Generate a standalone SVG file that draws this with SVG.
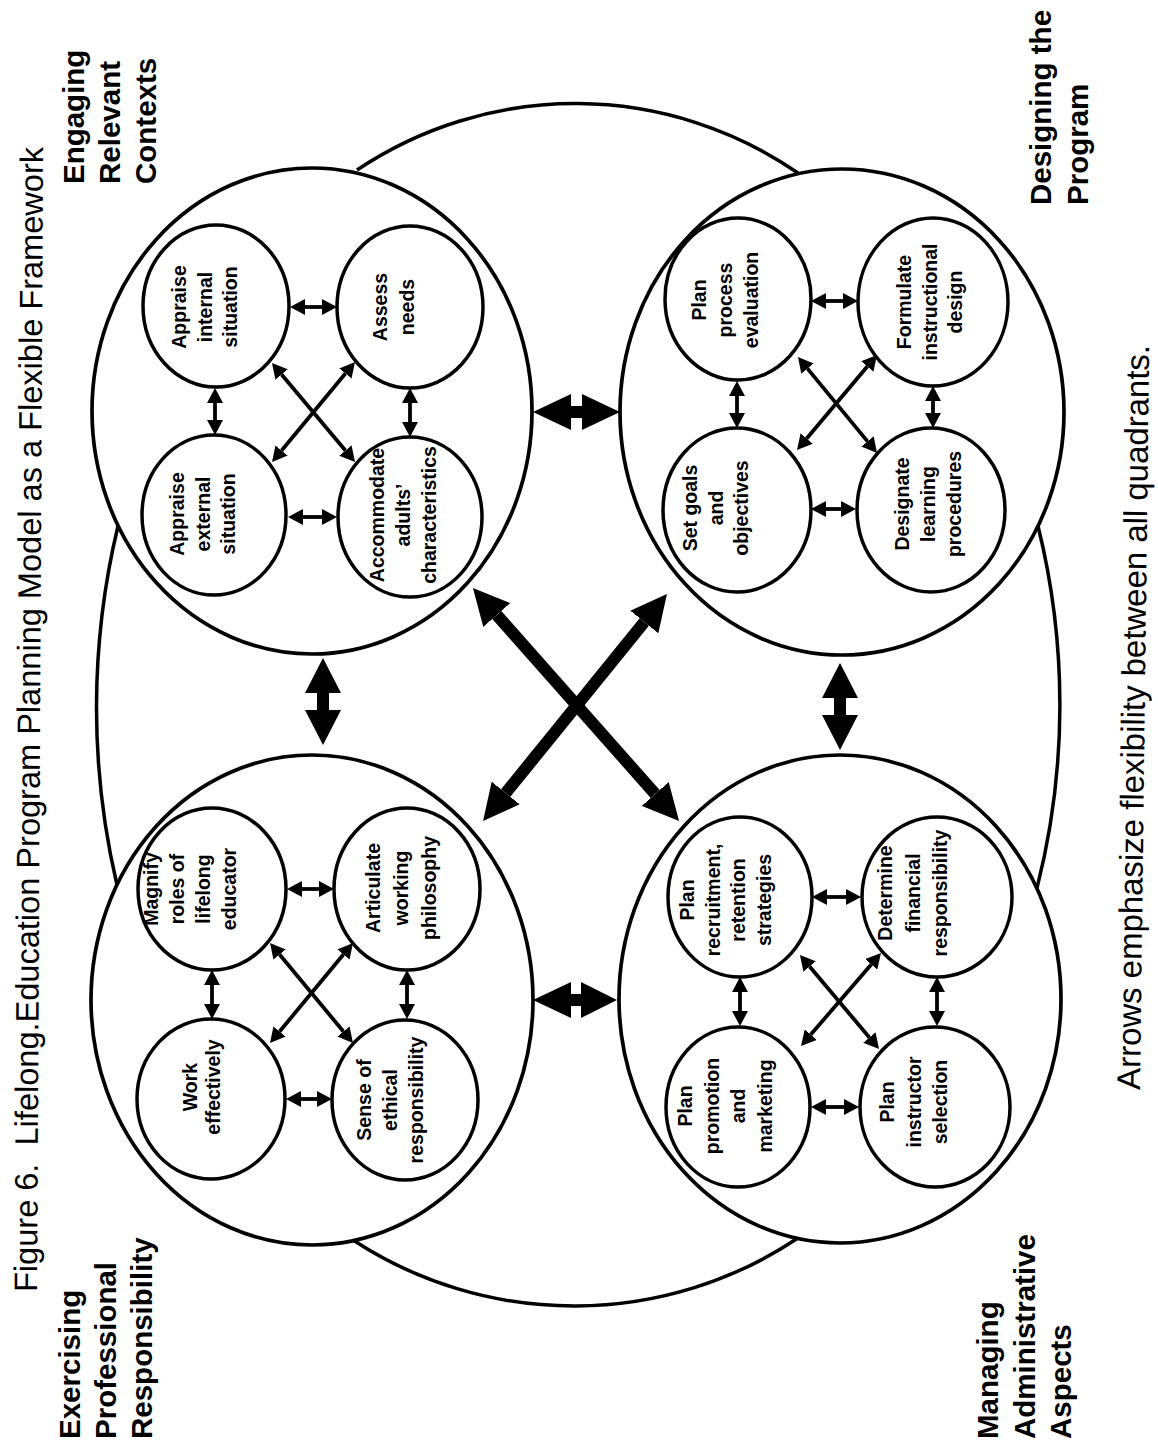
<svg xmlns="http://www.w3.org/2000/svg" width="1158" height="1451" viewBox="0 0 1158 1451">
  <style>
    .ring { fill: none; stroke: #000; stroke-width: 3.7; }
    .frame { fill: none; stroke: #000; stroke-width: 3.5; }
    .node ellipse { fill: none; stroke: #000; stroke-width: 3.5; }
    .nt { font-family: "Liberation Sans", Arial, sans-serif; font-weight: bold; font-size: 19.5px; text-anchor: middle; fill: #000; }
    .ql { font-family: "Liberation Sans", Arial, sans-serif; font-weight: bold; font-size: 29.5px; fill: #000; }
    .cap { font-family: "Liberation Sans", Arial, sans-serif; font-size: 32.5px; fill: #000; }
    .sm { fill: none; stroke: #000; stroke-width: 3.8; marker-start: url(#hs); marker-end: url(#hs); }
    .lg { fill: none; stroke: #000; stroke-width: 12; marker-start: url(#hl); marker-end: url(#hl); }
    .big { fill: #000; stroke: none; }
  </style>
  <defs>
    <marker id="hs" markerUnits="userSpaceOnUse" viewBox="0 0 15 16" refX="0" refY="8" markerWidth="15" markerHeight="16" orient="auto-start-reverse">
      <path d="M0,0 L15,8 L0,16 Z" fill="#000"/>
    </marker>
    <marker id="hl" markerUnits="userSpaceOnUse" viewBox="0 0 36 36" refX="0" refY="18" markerWidth="36" markerHeight="36" orient="auto-start-reverse">
      <path d="M0,0 L36,18 L0,36 Z" fill="#000"/>
    </marker>
  </defs>

  <rect x="0" y="0" width="1158" height="1451" fill="#fff"/>

  <!-- outer framework outline joining the four quadrants -->
  <g id="framework">
    <path class="frame" d="M357,170 A392,392 0 0 1 798,173 M1038,526 A743,743 0 0 1 1037,888 M798,1238 A403,403 0 0 1 353,1240 M117,885 A778,778 0 0 1 118,526"/>
  </g>

  <!-- quadrant rings -->
  <g id="quadrant-engaging"><ellipse class="ring" cx="312" cy="411" rx="220" ry="243"/></g>
  <g id="quadrant-designing"><ellipse class="ring" cx="842" cy="412" rx="222" ry="243"/></g>
  <g id="quadrant-exercising"><ellipse class="ring" cx="312" cy="1000" rx="221" ry="245"/></g>
  <g id="quadrant-managing"><ellipse class="ring" cx="840" cy="999" rx="221" ry="244"/></g>

  <!-- Engaging Relevant Contexts -->
  <g id="node-appraise-internal" class="node">
    <ellipse cx="216" cy="306" rx="73" ry="81"/>
    <text class="nt" transform="translate(186,307) rotate(-90)"><tspan x="0" y="0">Appraise</tspan><tspan x="0" y="25.5">internal</tspan><tspan x="0" y="51">situation</tspan></text>
  </g>
  <g id="node-assess-needs" class="node">
    <ellipse cx="410" cy="307" rx="73" ry="81"/>
    <text class="nt" transform="translate(387,307) rotate(-90)"><tspan x="0" y="0">Assess</tspan><tspan x="0" y="27">needs</tspan></text>
  </g>
  <g id="node-appraise-external" class="node">
    <ellipse cx="214" cy="515" rx="72" ry="80"/>
    <text class="nt" transform="translate(184,514) rotate(-90)"><tspan x="0" y="0">Appraise</tspan><tspan x="0" y="25.5">external</tspan><tspan x="0" y="51">situation</tspan></text>
  </g>
  <g id="node-accommodate" class="node">
    <ellipse cx="410" cy="517" rx="72" ry="80"/>
    <text class="nt" transform="translate(384,515) rotate(-90)"><tspan x="0" y="0">Accommodate</tspan><tspan x="0" y="26">adults’</tspan><tspan x="0" y="52">characteristics</tspan></text>
  </g>

  <!-- Designing the Program -->
  <g id="node-plan-process-evaluation" class="node">
    <ellipse cx="738" cy="299" rx="73" ry="81"/>
    <text class="nt" transform="translate(706,300) rotate(-90)"><tspan x="0" y="0">Plan</tspan><tspan x="0" y="26">process</tspan><tspan x="0" y="52">evaluation</tspan></text>
  </g>
  <g id="node-formulate" class="node">
    <ellipse cx="933" cy="302" rx="75" ry="84"/>
    <text class="nt" transform="translate(911,302) rotate(-90)"><tspan x="0" y="0">Formulate</tspan><tspan x="0" y="25.5">instructional</tspan><tspan x="0" y="51">design</tspan></text>
  </g>
  <g id="node-set-goals" class="node">
    <ellipse cx="737" cy="510" rx="74" ry="82"/>
    <text class="nt" transform="translate(697,508) rotate(-90)"><tspan x="0" y="0">Set goals</tspan><tspan x="0" y="25.5">and</tspan><tspan x="0" y="51">objectives</tspan></text>
  </g>
  <g id="node-designate" class="node">
    <ellipse cx="931" cy="510" rx="74" ry="82"/>
    <text class="nt" transform="translate(909,504) rotate(-90)"><tspan x="0" y="0">Designate</tspan><tspan x="0" y="26">learning</tspan><tspan x="0" y="52">procedures</tspan></text>
  </g>

  <!-- Exercising Professional Responsibility -->
  <g id="node-magnify-roles" class="node">
    <ellipse cx="212" cy="889" rx="74" ry="81"/>
    <text class="nt" transform="translate(158,889) rotate(-90)"><tspan x="0" y="0">Magnify</tspan><tspan x="0" y="26">roles of</tspan><tspan x="0" y="52">lifelong</tspan><tspan x="0" y="78">educator</tspan></text>
  </g>
  <g id="node-articulate" class="node">
    <ellipse cx="407" cy="889" rx="73" ry="81"/>
    <text class="nt" transform="translate(380,888) rotate(-90)"><tspan x="0" y="0">Articulate</tspan><tspan x="0" y="28">working</tspan><tspan x="0" y="56">philosophy</tspan></text>
  </g>
  <g id="node-work-effectively" class="node">
    <ellipse cx="211" cy="1099" rx="74" ry="80"/>
    <text class="nt" transform="translate(197,1087) rotate(-90)"><tspan x="0" y="0">Work</tspan><tspan x="0" y="23">effectively</tspan></text>
  </g>
  <g id="node-sense-ethical" class="node">
    <ellipse cx="405" cy="1100" rx="73" ry="80"/>
    <text class="nt" transform="translate(371,1100) rotate(-90)"><tspan x="0" y="0">Sense of</tspan><tspan x="0" y="26">ethical</tspan><tspan x="0" y="52">responsibility</tspan></text>
  </g>

  <!-- Managing Administrative Aspects -->
  <g id="node-plan-recruitment" class="node">
    <ellipse cx="740" cy="897" rx="72" ry="80"/>
    <text class="nt" transform="translate(694,900) rotate(-90)"><tspan x="0" y="0">Plan</tspan><tspan x="0" y="25.7">recruitment,</tspan><tspan x="0" y="51.4">retention</tspan><tspan x="0" y="77">strategies</tspan></text>
  </g>
  <g id="node-determine-financial" class="node">
    <ellipse cx="937" cy="897" rx="75" ry="80"/>
    <text class="nt" transform="translate(892,893) rotate(-90)"><tspan x="0" y="0">Determine</tspan><tspan x="0" y="27.5">financial</tspan><tspan x="0" y="55">responsibility</tspan></text>
  </g>
  <g id="node-plan-promotion" class="node">
    <ellipse cx="738" cy="1107" rx="72" ry="80"/>
    <text class="nt" transform="translate(692,1106) rotate(-90)"><tspan x="0" y="0">Plan</tspan><tspan x="0" y="26.7">promotion</tspan><tspan x="0" y="53.4">and</tspan><tspan x="0" y="80">marketing</tspan></text>
  </g>
  <g id="node-plan-instructor" class="node">
    <ellipse cx="935" cy="1107" rx="75" ry="80"/>
    <text class="nt" transform="translate(894,1102) rotate(-90)"><tspan x="0" y="0">Plan</tspan><tspan x="0" y="26.5">instructor</tspan><tspan x="0" y="53">selection</tspan></text>
  </g>

  <!-- connectors -->
  <g id="connectors">
    <!-- within Engaging Relevant Contexts -->
    <path class="sm" d="M305,307 L322,307"/>
    <path class="sm" d="M303,517 L322,517"/>
    <path class="sm" d="M215,403 L215,420"/>
    <path class="sm" d="M410,403 L410,422"/>
    <path class="sm" d="M281.6,374.5 L345.4,450.5"/>
    <path class="sm" d="M345.4,373.5 L281.6,450.5"/>
    <!-- within Designing the Program -->
    <path class="sm" d="M826,301 L843,301"/>
    <path class="sm" d="M826,509 L841,509"/>
    <path class="sm" d="M737,396 L737,413"/>
    <path class="sm" d="M933,401 L933,413"/>
    <path class="sm" d="M807.5,368.6 L867.5,441.4"/>
    <path class="sm" d="M867.3,366.5 L806.7,438.5"/>
    <!-- within Exercising Professional Responsibility -->
    <path class="sm" d="M302,889 L319,889"/>
    <path class="sm" d="M301,1099 L317,1099"/>
    <path class="sm" d="M212,985 L212,1004"/>
    <path class="sm" d="M407,985 L407,1004"/>
    <path class="sm" d="M279.6,954.5 L343.4,1031.5"/>
    <path class="sm" d="M343.4,954.5 L279.6,1031.5"/>
    <!-- within Managing Administrative Aspects -->
    <path class="sm" d="M827,897 L846,897"/>
    <path class="sm" d="M826,1107 L844,1107"/>
    <path class="sm" d="M740,992 L740,1011"/>
    <path class="sm" d="M937,992 L937,1011"/>
    <path class="sm" d="M871.2,964.4 L810.8,1034.6"/>
    <path class="sm" d="M809.6,966.5 L869.4,1037.5"/>

    <!-- between neighbouring quadrants -->
    <path class="big" d="M533,412 L571,394 L571,406 L582,406 L582,394 L620,412 L582,430 L582,418 L571,418 L571,430 Z"/>
    <path class="big" d="M533,1000 L571,982 L571,994 L581,994 L581,982 L617,1000 L581,1018 L581,1006 L571,1006 L571,1018 Z"/>
    <path class="big" d="M323,658 L341,693 L329,693 L329,710 L341,710 L323,745 L305,710 L317,710 L317,693 L305,693 Z"/>
    <path class="big" d="M840,663 L858,698 L846,698 L846,715 L858,715 L840,750 L822,715 L834,715 L834,698 L822,698 Z"/>

    <!-- across the diagonals -->
    <path class="lg" d="M496.8,615 L655.2,794"/>
    <path class="lg" d="M644.3,622 L505.7,793"/>
  </g>

  <!-- quadrant headings -->
  <g id="label-engaging">
    <text class="ql" transform="translate(84,184) rotate(-90)"><tspan x="0" y="0">Engaging</tspan><tspan x="0" y="36">Relevant</tspan><tspan x="0" y="72">Contexts</tspan></text>
  </g>
  <g id="label-designing">
    <text class="ql" transform="translate(1051,205) rotate(-90)"><tspan x="0" y="0">Designing the</tspan><tspan x="0" y="37">Program</tspan></text>
  </g>
  <g id="label-exercising">
    <text class="ql" transform="translate(80,1439) rotate(-90)"><tspan x="0" y="0">Exercising</tspan><tspan x="0" y="36">Professional</tspan><tspan x="0" y="72">Responsibility</tspan></text>
  </g>
  <g id="label-managing">
    <text class="ql" transform="translate(998,1439) rotate(-90)"><tspan x="0" y="0">Managing</tspan><tspan x="0" y="37">Administrative</tspan><tspan x="0" y="73">Aspects</tspan></text>
  </g>

  <!-- title and caption -->
  <text id="title" class="cap" transform="translate(37,1292) rotate(-89.7)" textLength="1145" lengthAdjust="spacing">Figure 6.&#160; Lifelong.Education Program Planning Model as a Flexible Framework</text>
  <text id="caption" class="cap" style="font-size:33px" transform="translate(1140,1090) rotate(-89.3)" textLength="745" lengthAdjust="spacing">Arrows emphasize flexibility between all quadrants.</text>
</svg>
